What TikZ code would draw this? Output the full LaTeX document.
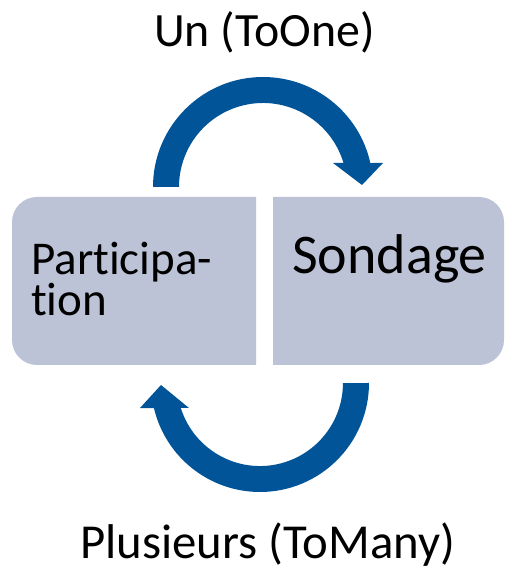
\documentclass[tikz,border=0pt]{standalone}
\usepackage{fontspec}
\setmainfont{Carlito}[Ligatures=NoCommon]
\definecolor{boxfill}{RGB}{188,195,214}
\definecolor{arrowblue}{RGB}{1,84,151}
\begin{document}
\begin{tikzpicture}[x=1pt,y=1pt,
  boxstyle/.style={fill=boxfill},
  bigarrow/.style={fill=arrowblue},
  lbl/.style={inner sep=0pt,anchor=base west,text=black}]
\useasboundingbox (0,0) rectangle (505,570);
% boxes
\fill[boxstyle] (256,205) -- (37,205) arc[start angle=270,end angle=180,radius=25]
  -- (12,348) arc[start angle=180,end angle=90,radius=25] -- (256,373) -- cycle;
\fill[boxstyle] (273,205) -- (479,205) arc[start angle=-90,end angle=0,radius=25]
  -- (504,348) arc[start angle=0,end angle=90,radius=25] -- (273,373) -- cycle;
% box texts
\node[lbl,align=left,font=\fontsize{47}{41}\selectfont] (part) at (31,254) {Participa-\\tion};
\node[lbl,font=\fontsize{56}{60}\selectfont] (sond) at (292,296) {Sondage};
% top arrow
\fill[bigarrow] (153,383) arc[start angle=180,end angle=12.6,radius=110]
  -- (383,407) -- (362,385) -- (333,407) -- (343.5,407)
  arc[start angle=16.6,end angle=180,radius=84] -- cycle;
% bottom arrow
\fill[bigarrow] (369,187) arc[start angle=0,end angle=-166.7,radius=109]
  -- (140,162) -- (161,185) -- (189,162) -- (180.8,162)
  arc[start angle=-162.5,end angle=0,radius=83] -- cycle;
% labels
\node[lbl,font=\fontsize{47.8}{50}\selectfont] (one) at (154,523) {Un (ToOne)};
\node[lbl,font=\fontsize{48.8}{50}\selectfont] (many) at (80,11) {Plusieurs (ToMany)};
\end{tikzpicture}
\end{document}
